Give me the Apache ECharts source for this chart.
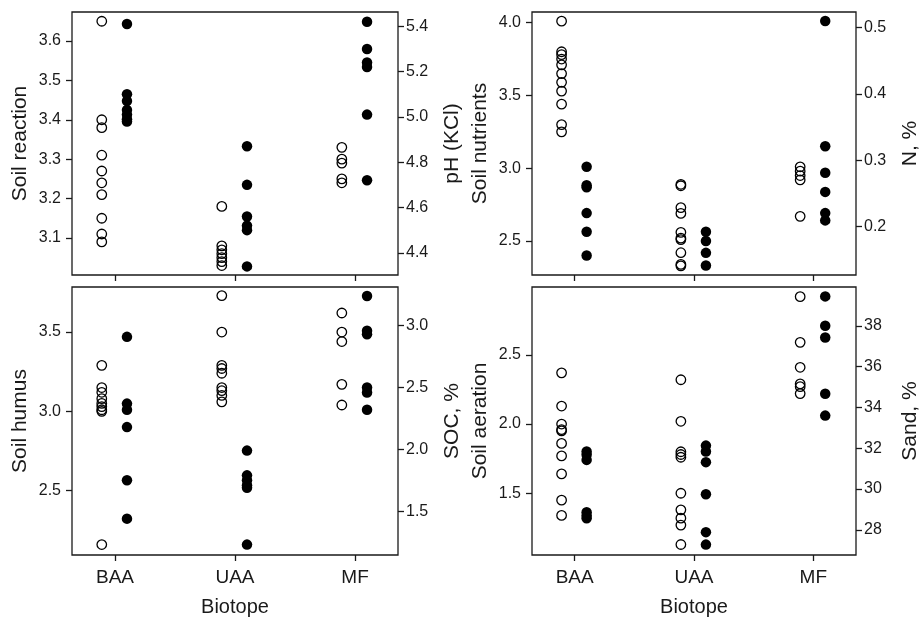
<!DOCTYPE html>
<html>
<head>
<meta charset="utf-8">
<script src="https://cdn.jsdelivr.net/npm/echarts@6/dist/echarts.min.js"></script>
<style>
  html, body { margin: 0; padding: 0; background: #fff; }
  #main { width: 922px; height: 618px; }
</style>
</head>
<body>
<div id="main"></div>
<script>
const categories = ['BAA', 'UAA', 'MF'];

// open circles (left axis) and filled circles (right axis), one list per biotope
const soilReaction = [
    [3.65, 3.40, 3.38, 3.31, 3.27, 3.24, 3.21, 3.15, 3.11, 3.09],
    [3.18, 3.08, 3.07, 3.06, 3.05, 3.04, 3.03],
    [3.33, 3.30, 3.29, 3.25, 3.24]
];
const phKCl = [
    [5.41, 5.10, 5.07, 5.03, 5.01, 4.99, 4.98],
    [4.87, 4.70, 4.56, 4.52, 4.50, 4.34],
    [5.42, 5.30, 5.24, 5.22, 5.01, 4.72]
];
const soilNutrients = [
    [4.01, 3.80, 3.78, 3.75, 3.71, 3.65, 3.59, 3.53, 3.44, 3.30, 3.25],
    [2.89, 2.88, 2.73, 2.69, 2.56, 2.52, 2.51, 2.42, 2.34, 2.33],
    [3.01, 2.98, 2.95, 2.92, 2.67]
];
const nitrogen = [
    [0.290, 0.262, 0.259, 0.220, 0.192, 0.156],
    [0.192, 0.178, 0.160, 0.141],
    [0.510, 0.321, 0.281, 0.252, 0.220, 0.209]
];
const soilHumus = [
    [3.29, 3.15, 3.12, 3.08, 3.05, 3.03, 3.01, 3.00, 2.16],
    [3.73, 3.50, 3.29, 3.27, 3.24, 3.15, 3.13, 3.10, 3.06],
    [3.62, 3.50, 3.44, 3.17, 3.04]
];
const soc = [
    [2.91, 2.37, 2.32, 2.18, 1.75, 1.44],
    [1.99, 1.79, 1.75, 1.71, 1.69, 1.23],
    [3.24, 2.96, 2.93, 2.50, 2.46, 2.32]
];
const soilAeration = [
    [2.37, 2.13, 2.00, 1.96, 1.95, 1.86, 1.77, 1.64, 1.45, 1.34],
    [2.32, 2.02, 1.80, 1.78, 1.76, 1.50, 1.38, 1.32, 1.27, 1.13],
    [2.92, 2.59, 2.41, 2.29, 2.27, 2.22]
];
const sand = [
    [31.84, 31.68, 31.43, 28.87, 28.70, 28.57],
    [32.13, 31.84, 31.32, 29.75, 27.89, 27.28],
    [39.44, 38.00, 37.43, 34.67, 33.60]
];

const reactionTicks = [3.1, 3.2, 3.3, 3.4, 3.5, 3.6];
const phTicks = [4.4, 4.6, 4.8, 5.0, 5.2, 5.4];
const nutrientTicks = [2.5, 3.0, 3.5, 4.0];
const nTicks = [0.2, 0.3, 0.4, 0.5];
const humusTicks = [2.5, 3.0, 3.5];
const socTicks = [1.5, 2.0, 2.5, 3.0];
const aerationTicks = [1.5, 2.0, 2.5];
const sandTicks = [28, 30, 32, 34, 36, 38];

const FONT = 'Liberation Sans, Arial, sans-serif';
const INK = '#1a1a1a';

const panels = [
    { left: soilReaction, right: phKCl, lName: 'Soil reaction', rName: 'pH (KCl)',
      lTicks: reactionTicks, rTicks: phTicks, lDec: 1, rDec: 1,
      lMin: 3.006, lMax: 3.6735, rMin: 4.302, rMax: 5.463 },
    { left: soilNutrients, right: nitrogen, lName: 'Soil nutrients', rName: 'N, %',
      lTicks: nutrientTicks, rTicks: nTicks, lDec: 1, rDec: 1,
      lMin: 2.267, lMax: 4.073, rMin: 0.1266, rMax: 0.5235 },
    { left: soilHumus, right: soc, lName: 'Soil humus', rName: 'SOC, %',
      lTicks: humusTicks, rTicks: socTicks, lDec: 1, rDec: 1,
      lMin: 2.094, lMax: 3.784, rMin: 1.146, rMax: 3.313 },
    { left: soilAeration, right: sand, lName: 'Soil aeration', rName: 'Sand, %',
      lTicks: aerationTicks, rTicks: sandTicks, lDec: 1, rDec: 0,
      lMin: 1.054, lMax: 2.99, rMin: 26.77, rMax: 39.90 }
];

const grids = [
    { left: 72, top: 12, width: 326, height: 263 },
    { left: 532, top: 12, width: 326, height: 263 },
    { left: 72, top: 287, width: 326, height: 268 },
    { left: 532, top: 287, width: 326, height: 268 }
];

function toPoints(groups, offset) {
    const pts = [];
    groups.forEach((vals, i) => {
        vals.forEach(v => pts.push([i + 1 + offset, v]));
    });
    return pts;
}

const option = {
    animation: false,
    backgroundColor: '#fff',
    grid: grids.map(g => Object.assign({
        show: true, borderColor: INK, borderWidth: 1.3, backgroundColor: 'transparent'
    }, g)),
    xAxis: grids.map((g, i) => {
        const bottom = i >= 2;
        return {
            type: 'value', gridIndex: i, min: 0.642, max: 3.358,
            axisLine: { show: false },
            splitLine: { show: false },
            axisTick: { show: true, customValues: [1, 2, 3], length: 6, lineStyle: { color: INK, width: 1.3 } },
            axisLabel: {
                show: bottom, customValues: [1, 2, 3], margin: 13,
                formatter: v => categories[Math.round(v) - 1] || '',
                color: INK, fontFamily: FONT, fontSize: 19
            },
            name: bottom ? 'Biotope' : '',
            nameLocation: 'middle', nameGap: 42,
            nameTextStyle: { color: INK, fontFamily: FONT, fontSize: 20 }
        };
    }),
    yAxis: [],
    series: []
};

panels.forEach((p, i) => {
    const axisBase = {
        type: 'value', gridIndex: i,
        axisLine: { show: false },
        splitLine: { show: false },
        nameLocation: 'middle', nameRotate: 90,
        nameTextStyle: { color: INK, fontFamily: FONT, fontSize: 21 }
    };
    option.yAxis.push(Object.assign({}, axisBase, {
        position: 'left', min: p.lMin, max: p.lMax,
        name: p.lName, nameGap: 41,
        axisTick: { show: true, customValues: p.lTicks, length: 6, lineStyle: { color: INK, width: 1.3 } },
        axisLabel: { customValues: p.lTicks, margin: 11, formatter: v => v.toFixed(p.lDec),
            color: INK, fontFamily: FONT, fontSize: 16 }
    }));
    option.yAxis.push(Object.assign({}, axisBase, {
        position: 'right', min: p.rMin, max: p.rMax,
        name: p.rName, nameGap: 44,
        axisTick: { show: true, customValues: p.rTicks, length: 6, lineStyle: { color: INK, width: 1.3 } },
        axisLabel: { customValues: p.rTicks, margin: 8, formatter: v => v.toFixed(p.rDec),
            color: INK, fontFamily: FONT, fontSize: 16 }
    }));
    option.series.push({
        type: 'scatter', xAxisIndex: i, yAxisIndex: 2 * i,
        symbol: 'circle', symbolSize: 9.5,
        itemStyle: { color: 'rgba(0,0,0,0)', borderColor: '#000', borderWidth: 1.3, opacity: 1 },
        data: toPoints(p.left, -0.11)
    });
    option.series.push({
        type: 'scatter', xAxisIndex: i, yAxisIndex: 2 * i + 1,
        symbol: 'circle', symbolSize: 10.5,
        itemStyle: { color: '#000', opacity: 1 },
        data: toPoints(p.right, 0.1)
    });
});

const chart = echarts.init(document.getElementById('main'));
chart.setOption(option);
</script>
</body>
</html>
